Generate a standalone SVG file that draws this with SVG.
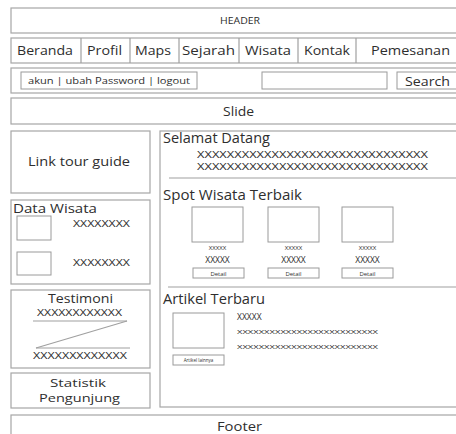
<svg xmlns="http://www.w3.org/2000/svg" width="456" height="434" viewBox="0 0 456 434">
  <style>
    .box { fill: #ffffff; stroke: #a6a6a6; stroke-width: 1.2; }
    .thin { fill: #ffffff; stroke: #9a9a9a; stroke-width: 1; }
    .rule { stroke: #a0a0a0; stroke-width: 1.2; fill: none; }
    text { font-family: "Open Sans", "Noto Sans", "DejaVu Sans", sans-serif; fill: #2e2e2e; }
    .nav { font-size: 13.5px; }
    .mid { text-anchor: middle; }
    .title { font-size: 14px; }
    .xs { font-size: 8.5px; }
    .tiny { font-size: 6px; }
  </style>
  <rect width="456" height="434" fill="#ffffff"/>

  <!-- header bar -->
  <g id="header">
    <rect class="box" x="11" y="8" width="452" height="25"/>
    <text x="220" y="24" font-size="9.5" textLength="40" lengthAdjust="spacingAndGlyphs">HEADER</text>
  </g>

  <!-- navigation menu -->
  <g id="nav">
    <rect class="box" x="11" y="38" width="452" height="25"/>
    <line class="rule" x1="81" y1="38" x2="81" y2="63"/>
    <line class="rule" x1="130" y1="38" x2="130" y2="63"/>
    <line class="rule" x1="179" y1="38" x2="179" y2="63"/>
    <line class="rule" x1="239" y1="38" x2="239" y2="63"/>
    <line class="rule" x1="298" y1="38" x2="298" y2="63"/>
    <line class="rule" x1="356" y1="38" x2="356" y2="63"/>
    <text class="nav" x="17" y="55" textLength="56" lengthAdjust="spacingAndGlyphs">Beranda</text>
    <text class="nav" x="87" y="55" textLength="35" lengthAdjust="spacingAndGlyphs">Profil</text>
    <text class="nav" x="135" y="55" textLength="36" lengthAdjust="spacingAndGlyphs">Maps</text>
    <text class="nav" x="182" y="55" textLength="53" lengthAdjust="spacingAndGlyphs">Sejarah</text>
    <text class="nav" x="245" y="55" textLength="46" lengthAdjust="spacingAndGlyphs">Wisata</text>
    <text class="nav" x="304" y="55" textLength="46" lengthAdjust="spacingAndGlyphs">Kontak</text>
    <text class="nav" x="371" y="55" textLength="79" lengthAdjust="spacingAndGlyphs">Pemesanan</text>
  </g>

  <!-- account / search bar -->
  <g id="toolbar">
    <rect class="box" x="11" y="68" width="452" height="25"/>
    <rect class="thin" x="21" y="72" width="176" height="17"/>
    <text x="28" y="84" font-size="9.5" textLength="162" lengthAdjust="spacingAndGlyphs">akun | ubah Password |  logout</text>
    <rect class="thin" x="262" y="72" width="125" height="17"/>
    <rect class="thin" x="397" y="72" width="64" height="17"/>
    <text x="405" y="85.5" font-size="13" textLength="45" lengthAdjust="spacingAndGlyphs">Search</text>
  </g>

  <!-- slide banner -->
  <g id="slide">
    <rect class="box" x="11" y="98" width="452" height="26"/>
    <text class="nav" x="223" y="115.5" textLength="31" lengthAdjust="spacingAndGlyphs">Slide</text>
  </g>

  <!-- left column -->
  <g id="link-tour-guide">
    <rect class="box" x="11" y="131" width="139" height="62"/>
    <text x="28" y="166" font-size="13.5" textLength="102" lengthAdjust="spacingAndGlyphs">Link tour guide</text>
  </g>

  <g id="data-wisata">
    <rect class="box" x="11" y="200" width="139" height="84"/>
    <text x="13" y="212.5" font-size="13.5" textLength="84" lengthAdjust="spacingAndGlyphs">Data Wisata</text>
    <rect class="thin" x="17" y="216" width="34" height="24"/>
    <rect class="thin" x="17" y="252" width="34" height="23"/>
    <text class="xs" x="73" y="227" textLength="57" lengthAdjust="spacingAndGlyphs">XXXXXXXX</text>
    <text class="xs" x="73" y="266" textLength="57" lengthAdjust="spacingAndGlyphs">XXXXXXXX</text>
  </g>

  <g id="testimoni">
    <rect class="box" x="11" y="290" width="139" height="78"/>
    <text x="48" y="302.5" font-size="13" textLength="65" lengthAdjust="spacingAndGlyphs">Testimoni</text>
    <text class="xs" x="37" y="316" textLength="85" lengthAdjust="spacingAndGlyphs">XXXXXXXXXXXX</text>
    <line class="rule" x1="33" y1="321" x2="127" y2="321"/>
    <line class="rule" x1="127" y1="321" x2="36" y2="348"/>
    <line class="rule" x1="36" y1="348" x2="130" y2="348"/>
    <text class="xs" x="33" y="359" textLength="94" lengthAdjust="spacingAndGlyphs">XXXXXXXXXXXXX</text>
  </g>

  <g id="statistik">
    <rect class="box" x="11" y="373" width="139" height="35"/>
    <text x="50" y="386.5" font-size="11" textLength="56" lengthAdjust="spacingAndGlyphs">Statistik</text>
    <text x="39" y="401.5" font-size="11" textLength="81" lengthAdjust="spacingAndGlyphs">Pengunjung</text>
  </g>

  <!-- main content panel -->
  <g id="content">
    <rect class="box" x="160" y="131" width="303" height="276"/>

    <text class="title" x="163" y="143" textLength="107" lengthAdjust="spacingAndGlyphs">Selamat Datang</text>
    <text class="xs" x="197" y="158" textLength="231" lengthAdjust="spacingAndGlyphs">XXXXXXXXXXXXXXXXXXXXXXXXXXXXXXX</text>
    <text class="xs" x="197" y="170" textLength="231" lengthAdjust="spacingAndGlyphs">XXXXXXXXXXXXXXXXXXXXXXXXXXXXXXX</text>
    <line class="rule" x1="169" y1="178" x2="463" y2="178"/>

    <text class="title" x="163" y="200" textLength="139" lengthAdjust="spacingAndGlyphs">Spot Wisata Terbaik</text>

    <rect class="thin" x="192" y="207" width="51" height="35"/>
    <rect class="thin" x="268" y="207" width="51" height="35"/>
    <rect class="thin" x="342" y="207" width="51" height="35"/>

    <text class="tiny mid" x="217.5" y="250">XXXXX</text>
    <text class="tiny mid" x="293.5" y="250">XXXXX</text>
    <text class="tiny mid" x="367.5" y="250">XXXXX</text>

    <text class="xs mid" x="217.5" y="263">XXXXX</text>
    <text class="xs mid" x="293.5" y="263">XXXXX</text>
    <text class="xs mid" x="367.5" y="263">XXXXX</text>

    <rect class="thin" x="193" y="268" width="51" height="10"/>
    <rect class="thin" x="268" y="268" width="51" height="10"/>
    <rect class="thin" x="342" y="268" width="51" height="10"/>
    <text class="tiny mid" x="218.5" y="275.5">Detail</text>
    <text class="tiny mid" x="293.5" y="275.5">Detail</text>
    <text class="tiny mid" x="367.5" y="275.5">Detail</text>

    <line class="rule" x1="168" y1="287" x2="463" y2="287"/>

    <text class="title" x="163" y="304" textLength="102" lengthAdjust="spacingAndGlyphs">Artikel Terbaru</text>
    <rect class="thin" x="173" y="313" width="51" height="35"/>
    <rect class="thin" x="173" y="355" width="51" height="10"/>
    <text class="mid" x="198.5" y="362" font-size="4.5">Artikel lainnya</text>
    <text class="xs" x="237" y="320">XXXXX</text>
    <text class="tiny" x="237" y="333.5" textLength="141" lengthAdjust="spacingAndGlyphs">XXXXXXXXXXXXXXXXXXXXXXXXXX</text>
    <text class="tiny" x="237" y="348.5" textLength="141" lengthAdjust="spacingAndGlyphs">XXXXXXXXXXXXXXXXXXXXXXXXXX</text>
  </g>

  <!-- footer bar -->
  <g id="footer">
    <rect class="box" x="11" y="415" width="452" height="30"/>
    <text class="nav" x="217" y="431" textLength="45" lengthAdjust="spacingAndGlyphs">Footer</text>
  </g>
</svg>
